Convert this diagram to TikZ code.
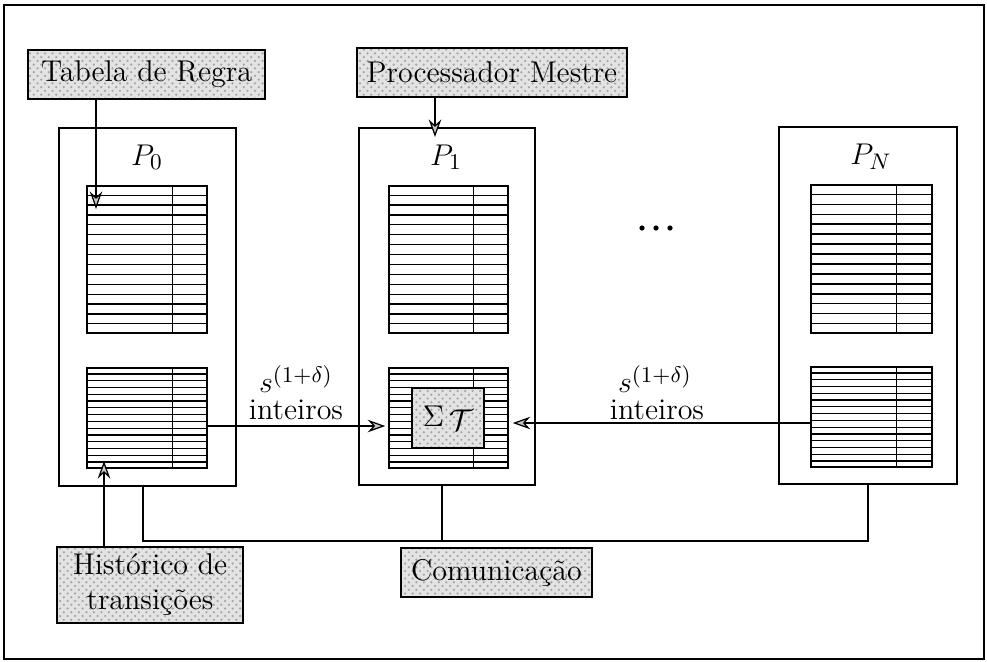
\documentclass[tikz,border=0pt]{standalone}
\usepackage{fontspec}
\usetikzlibrary{fit,calc,patterns,arrows.meta}
\newcommand\drawrows[3]{% name, rows, divider fraction
  \foreach \i in {1,...,#2}{
    \pgfmathsetmacro\fr{\i/(#2+1)}
    \draw[rowline] ($(#1.north west)!\fr!(#1.south west)$) -- ($(#1.north east)!\fr!(#1.south east)$);
  }
  \draw[rowline] ($(#1.north west)!#3!(#1.north east)$) -- ($(#1.south west)!#3!(#1.south east)$);
}
\tikzset{
  proc/.style={draw, line width=0.6pt, inner sep=0pt},
  tbl/.style={draw, line width=0.6pt, inner sep=0pt},
  rowline/.style={line width=0.5pt},
  shadebox/.style={draw, line width=0.6pt, inner sep=0pt,
    preaction={fill=white}, preaction={fill=gray!22},
    preaction={pattern=crosshatch dots, pattern color=gray!70}},
  lbl/.style={font=\fontsize{12}{14}\selectfont, inner sep=1pt},
  biglbl/.style={font=\fontsize{13}{15}\selectfont, inner sep=1pt},
  arr/.style={line width=0.5pt, -{Stealth[length=7pt,width=5pt,fill=gray!45]}},
  conn/.style={line width=0.6pt},
}
\begin{document}
\begin{tikzpicture}[x=0.4pt,y=-0.4pt]
\useasboundingbox (0,0) rectangle (987,661);
% outer frame
\node[proc, fit={(4,5)(984,659)}] (frame) {};

% processors
\node[proc, fit={(59,128)(236,486)}] (P0) {};
\node[proc, fit={(359,128)(535,485)}] (P1) {};
\node[proc, fit={(779,127)(957,484)}] (PN) {};
\node[biglbl] (lP0) at (147,157) {$P_0$};
\node[biglbl] (lP1) at (446,157) {$P_1$};
\node[biglbl] (lPN) at (871,157) {$P_N$};

% tables
\node[tbl, fit={(87,186)(207,333)}] (T0u) {};
\node[tbl, fit={(87,368)(207,468)}] (T0l) {};
\node[tbl, fit={(389,186)(508,333)}] (T1u) {};
\node[tbl, fit={(389,368)(508,468)}] (T1l) {};
\node[tbl, fit={(811,185)(932,333)}] (TNu) {};
\node[tbl, fit={(811,367)(932,467)}] (TNl) {};
\drawrows{T0u}{14}{0.71}
\drawrows{T0l}{14}{0.71}
\drawrows{T1u}{14}{0.71}
\drawrows{T1l}{14}{0.71}
\drawrows{TNu}{14}{0.705}
\drawrows{TNl}{14}{0.705}

% Sigma box over P1 lower table
\node[shadebox, fit={(412,388)(484,448)}, label={[lbl]center:$\Sigma\,\raisebox{-1.5pt}{$\mathcal{T}$}$}] (sig) {};

% dots
\fill (642,228) circle (2.6) (656,228) circle (2.6) (670,228) circle (2.6);

% shaded label boxes
\node[shadebox, fit={(28,50)(265,99)}, label={[lbl]center:Tabela de Regra}] (tab) {};
\node[shadebox, fit={(357,48)(627,97)}, label={[lbl]center:Processador Mestre}] (mestre) {};
\node[shadebox, fit={(57,547)(243,623)}, label={[lbl, align=center]center:Hist\'orico de\\transi\c c\~oes}] (hist) {};
\node[shadebox, fit={(401,548)(592,597)}, label={[lbl]center:Comunica\c c\~ao}] (com) {};

% arrows into tables
\coordinate (tabtip) at (96,209);
\draw[arr] (tabtip |- tab.south) -- (tabtip);
\coordinate (histtip) at (104,461);
\draw[arr] (histtip |- hist.north) -- (histtip);
\coordinate (mtip) at (435,137);
\draw[arr] (mtip |- mestre.south) -- (mtip);

% data transfers
\coordinate (lrow) at (0,426);
\coordinate (rrow) at (0,423);
\draw[arr] (T0l.east |- lrow) -- ($(T1l.west |- lrow)+(-3,0)$);
\draw[arr] (TNl.west |- rrow) -- ($(T1l.east |- rrow)+(4,0)$);
\node[biglbl] (s1) at (296,379) {$s^{(1+\delta)}$};
\node[lbl] (i1) at (296,410) {inteiros};
\node[biglbl] (s2) at (655,379) {$s^{(1+\delta)}$};
\node[lbl] (i2) at (657,410) {inteiros};

% communication bus
\coordinate (busL) at (143,541);
\coordinate (busR) at (868,541);
\draw[conn] (P0.south -| busL) -- (busL) -- (busR) -- (PN.south -| busR);
\coordinate (busM) at (442,541);
\draw[conn] (P1.south -| busM) -- (busM);
\end{tikzpicture}
\end{document}
